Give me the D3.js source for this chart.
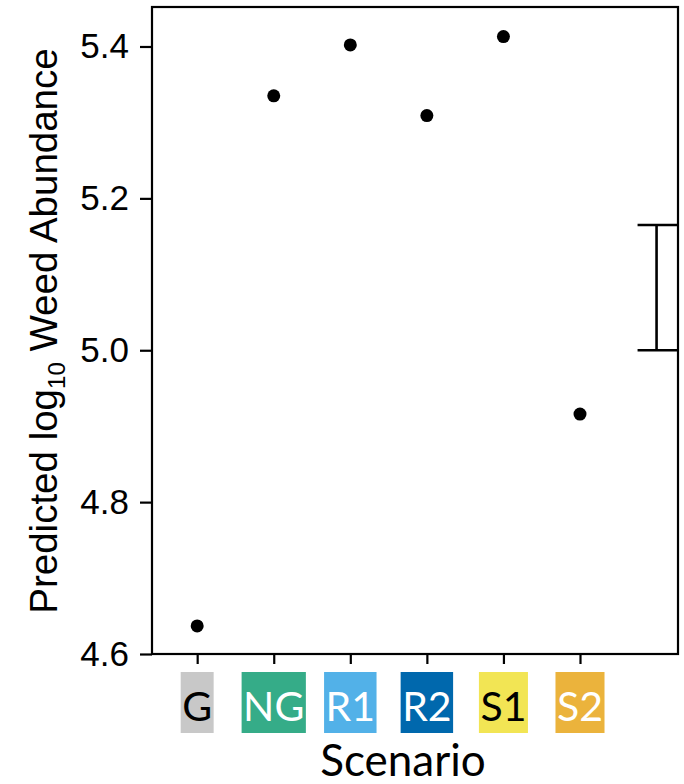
<!DOCTYPE html>
<html>
<head>
<meta charset="utf-8">
<script src="https://cdn.jsdelivr.net/npm/d3@7"></script>
<style>
  body { margin: 0; background: #fff; }
  svg { display: block; }
</style>
</head>
<body>
<svg width="684" height="784"></svg>
<script>
  // values
  const scenarios = ["G", "NG", "R1", "R2", "S1", "S2"];
  const predicted = [4.637, 5.335, 5.402, 5.309, 5.413, 4.916];
  const yTicks = [4.6, 4.8, 5.0, 5.2, 5.4];
  const errorBar = [5.0, 5.165];   // bar shown at the right of the panel

  const boxColors = {
    "G":  {fill: "#c8c8c8", text: "#000"},
    "NG": {fill: "#35ac88", text: "#fff"},
    "R1": {fill: "#52b1e8", text: "#fff"},
    "R2": {fill: "#0068ad", text: "#fff"},
    "S1": {fill: "#f2e554", text: "#000"},
    "S2": {fill: "#ebb33c", text: "#fff"}
  };

  const svg = d3.select("svg");
  const panel = {left: 152, top: 7, right: 678, bottom: 654};

  // scenario index -> x; slot 6 is where the error bar sits
  const x = d3.scaleLinear()
      .domain([-0.59, 6.28])
      .range([panel.left, panel.right]);

  const y = d3.scaleLinear()
      .domain([4.6, 5.452])
      .range([panel.bottom, panel.top]);

  // y axis
  const yAxis = svg.append("g")
      .attr("transform", "translate(" + panel.left + ",0)")
      .call(d3.axisLeft(y).tickValues(yTicks).tickFormat(d3.format(".1f"))
        .tickSize(12).tickPadding(11));
  yAxis.select(".domain").remove();
  yAxis.selectAll("line").attr("stroke", "#000").attr("stroke-width", 2.2);
  yAxis.selectAll("text")
      .attr("font-family", "'Liberation Sans', Arial, sans-serif")
      .attr("font-size", 35)
      .attr("fill", "#000");

  // x axis ticks
  const xAxis = svg.append("g")
      .attr("transform", "translate(0," + panel.bottom + ")")
      .call(d3.axisBottom(x).tickValues(d3.range(scenarios.length))
        .tickSize(10).tickFormat(""));
  xAxis.select(".domain").remove();
  xAxis.selectAll("line").attr("stroke", "#000").attr("stroke-width", 2.2);

  // panel border
  svg.append("rect")
      .attr("x", panel.left)
      .attr("y", panel.top)
      .attr("width", panel.right - panel.left)
      .attr("height", panel.bottom - panel.top)
      .attr("fill", "none")
      .attr("stroke", "#000")
      .attr("stroke-width", 2.2);

  // points
  svg.append("g").selectAll("circle")
    .data(predicted)
    .enter().append("circle")
      .attr("cx", (d, i) => x(i))
      .attr("cy", d => y(d))
      .attr("r", 6.5)
      .attr("fill", "#000");

  // error bar
  const ex = x(scenarios.length);
  const eb = svg.append("g").attr("stroke", "#000").attr("stroke-width", 2.6);
  eb.append("line")
      .attr("x1", ex).attr("x2", ex)
      .attr("y1", y(errorBar[0])).attr("y2", y(errorBar[1]));
  errorBar.forEach(v => {
    eb.append("line")
        .attr("x1", ex - 19).attr("x2", panel.right)
        .attr("y1", y(v)).attr("y2", y(v));
  });

  // coloured scenario labels
  const labels = svg.append("g").selectAll("g")
    .data(scenarios)
    .enter().append("g");

  const labelRects = labels.append("rect");
  const labelTexts = labels.append("text")
      .attr("x", (d, i) => x(i))
      .attr("y", 721)
      .attr("text-anchor", "middle")
      .attr("font-family", "Lato, 'Open Sans', sans-serif")
      .attr("font-size", 41)
      .attr("fill", d => boxColors[d].text)
      .text(d => d);

  labelTexts.each(function(d, i) {
    const bb = this.getBBox();
    d3.select(labelRects.nodes()[i])
        .attr("x", bb.x - 1.5)
        .attr("y", 672)
        .attr("width", bb.width + 3)
        .attr("height", 61)
        .attr("fill", boxColors[d].fill);
  });

  // axis titles
  svg.append("text")
      .attr("x", 403)
      .attr("y", 776)
      .attr("text-anchor", "middle")
      .attr("font-family", "Lato, 'Open Sans', sans-serif")
      .attr("font-size", 44)
      .attr("fill", "#000")
      .text("Scenario");

  const yTitle = svg.append("text")
      .attr("transform", "translate(57,331) rotate(-90)")
      .attr("text-anchor", "middle")
      .attr("font-family", "'Liberation Sans', Arial, sans-serif")
      .attr("font-size", 38.5)
      .attr("fill", "#000");
  yTitle.append("tspan").text("Predicted log");
  yTitle.append("tspan").attr("font-size", 24).attr("dy", 8).text("10");
  yTitle.append("tspan").attr("dy", -8).text(" Weed Abundance");
</script>
</body>
</html>
